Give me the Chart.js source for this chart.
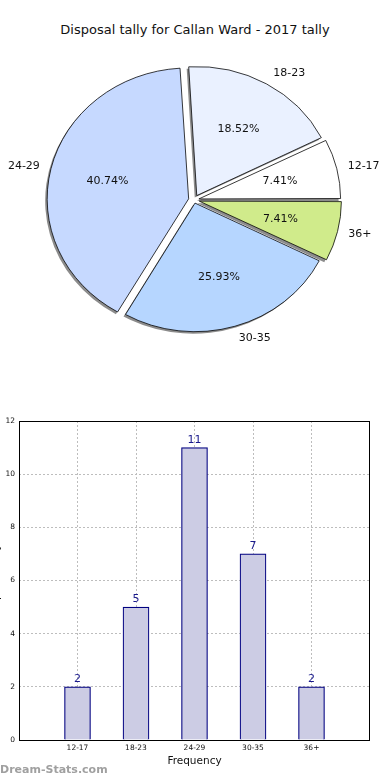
<!DOCTYPE html>
<html>
<head>
<meta charset="utf-8">
<script src="https://cdn.jsdelivr.net/npm/chart.js@4"></script>
<style>
  html, body { margin: 0; padding: 0; background: #fff; overflow: hidden; }
  body { width: 390px; height: 780px; position: relative; font-family: "DejaVu Sans", sans-serif; }
  #title { position: absolute; top: 22px; left: 0; width: 390px; text-align: center; font-size: 13px; color: #111; }
  #pieWrap { position: absolute; left: 0; top: 0; width: 390px; height: 400px; }
  #barWrap { position: absolute; left: -10px; top: 400px; width: 390px; height: 380px; }
  #mark { position: absolute; left: 0; top: 763px; font-size: 11px; font-weight: bold; color: #a0a0a0; }
</style>
</head>
<body>
<div id="title">Disposal tally for Callan Ward - 2017 tally</div>
<div id="pieWrap"><canvas id="pie"></canvas></div>
<div id="barWrap"><canvas id="bar"></canvas></div>
<div id="mark">Dream-Stats.com</div>
<script>
// data
const categories = ["12-17", "18-23", "24-29", "30-35", "36+"];
const tally = [2, 5, 11, 7, 2];
const percentLabels = ["7.41%", "18.52%", "40.74%", "25.93%", "7.41%"];
const sliceColors = ["#ffffff", "#eaf1ff", "#c6d9ff", "#b6d6ff", "#d0eb8b"];
const sliceOffsets = [20, 22, 22, 14, 22];
const yTicks = [0, 2, 4, 6, 8, 10, 12];

// pie is drawn clockwise from east, matplotlib goes counter-clockwise
const pieOrder = [4, 3, 2, 1, 0];
const ky = 0.925; // pie is a bit squashed vertically

const squash = (ctx, cx, cy, dx, dy) => {
  ctx.translate(cx + dx, cy + dy);
  ctx.scale(1, ky);
  ctx.translate(-cx, -cy);
};

const piePlugin = {
  id: "piePlugin",
  beforeDatasetsDraw(chart) {
    const ctx = chart.ctx;
    const arcs = chart.getDatasetMeta(0).data;
    const cx = arcs[0].x, cy = arcs[0].y;
    // shadow
    ctx.save();
    squash(ctx, cx, cy, -2, 2);
    ctx.fillStyle = "rgba(0,0,0,0.45)";
    arcs.forEach(a => {
      const off = (a.options.offset || 0) / 4;
      const mid = (a.startAngle + a.endAngle) / 2;
      const fix = 1 - Math.sin(Math.min(Math.PI, a.circumference || (a.endAngle - a.startAngle)));
      const ox = a.x + Math.cos(mid) * off, oy = a.y + Math.sin(mid) * off;
      ctx.beginPath();
      ctx.moveTo(ox, oy);
      ctx.arc(ox, oy, a.outerRadius + off * fix, a.startAngle, a.endAngle);
      ctx.closePath();
      ctx.fill();
    });
    ctx.restore();
    ctx.save();
    squash(ctx, cx, cy, 0, 0);
  },
  afterDatasetsDraw(chart) {
    const ctx = chart.ctx;
    ctx.restore();
    const arcs = chart.getDatasetMeta(0).data;
    ctx.save();
    ctx.fillStyle = "#111";
    ctx.font = "11px 'DejaVu Sans'";
    ctx.textBaseline = "middle";
    arcs.forEach((a, i) => {
      const k = pieOrder[i];
      const off = (a.options.offset || 0) / 4;
      const mid = (a.startAngle + a.endAngle) / 2;
      const c = Math.cos(mid), s = Math.sin(mid);
      const r = a.outerRadius;
      // percent
      ctx.textAlign = "center";
      ctx.fillText(percentLabels[k], a.x + c * (off + 0.6 * r), a.y + s * (off + 0.6 * r) * ky);
      // category
      ctx.textAlign = c >= 0 ? "left" : "right";
      ctx.fillText(categories[k], a.x + c * (off + 1.1 * r), a.y + s * (off + 1.1 * r) * ky);
    });
    ctx.restore();
  }
};

new Chart(document.getElementById("pie"), {
  type: "pie",
  data: {
    labels: pieOrder.map(i => categories[i]),
    datasets: [{
      data: pieOrder.map(i => tally[i]),
      backgroundColor: pieOrder.map(i => sliceColors[i]),
      offset: pieOrder.map(i => sliceOffsets[i]),
      borderColor: "#000",
      borderWidth: 0.8
    }]
  },
  options: {
    responsive: true,
    maintainAspectRatio: false,
    animation: false,
    rotation: 90,
    radius: 139,
    layout: { padding: { left: 0, right: 2, top: 0, bottom: 0 } },
    plugins: { legend: { display: false }, tooltip: { enabled: false } }
  },
  plugins: [piePlugin]
});

// bar chart
const barLabels = ["", ...categories, ""];
const barData = [null, ...tally, null];

const barPlugin = {
  id: "barPlugin",
  afterDraw(chart) {
    const ctx = chart.ctx;
    const a = chart.chartArea;
    ctx.save();
    ctx.strokeStyle = "#000";
    ctx.lineWidth = 1;
    ctx.strokeRect(a.left + 0.5, a.top + 0.5, a.right - a.left - 1, a.bottom - a.top);
    ctx.fillStyle = "#1a1a8c";
    ctx.font = "11px 'DejaVu Sans'";
    ctx.textAlign = "center";
    ctx.textBaseline = "bottom";
    chart.getDatasetMeta(0).data.forEach((b, i) => {
      if (barData[i] == null) return;
      ctx.fillText(String(barData[i]), b.x, b.y - 2);
    });
    ctx.restore();
  }
};

new Chart(document.getElementById("bar"), {
  type: "bar",
  data: {
    labels: barLabels,
    datasets: [{
      data: barData,
      backgroundColor: "#ccccE4",
      borderColor: "#000080",
      borderWidth: 1.2,
      barThickness: 26
    }]
  },
  options: {
    responsive: true,
    maintainAspectRatio: false,
    animation: false,
    layout: { padding: { top: 21, right: 10, bottom: 0, left: 0 } },
    plugins: { legend: { display: false }, tooltip: { enabled: false } },
    scales: {
      x: {
        offset: false,
        z: 1,
        grid: {
          offset: false,
          color: ctx => (ctx.index === 0 || ctx.index === barLabels.length - 1) ? "rgba(0,0,0,0)" : "#bdbdbd",
          lineWidth: 1,
          drawTicks: false
        },
        border: { display: false, dash: [2, 2] },
        ticks: { color: "#111", font: { family: "DejaVu Sans", size: 7.5 }, padding: 4, maxRotation: 0, autoSkip: false },
        title: { display: true, text: "Frequency", color: "#111", font: { family: "DejaVu Sans", size: 10.5 }, padding: { top: 0, bottom: 12 } },
        afterFit: s => { s.height = 40; }
      },
      y: {
        min: 0,
        max: 12,
        z: 1,
        afterBuildTicks: s => { s.ticks = yTicks.map(v => ({ value: v })); },
        grid: {
          color: ctx => (ctx.tick && (ctx.tick.value === 0 || ctx.tick.value === 12)) ? "rgba(0,0,0,0)" : "#bdbdbd",
          lineWidth: 1,
          drawTicks: false
        },
        border: { display: false, dash: [2, 2] },
        ticks: { color: "#111", font: { family: "DejaVu Sans", size: 7.5 }, padding: 4 },
        title: { display: true, text: "Disposal tally", color: "#111", font: { family: "DejaVu Sans", size: 11 }, padding: { top: 0, bottom: 0 } },
        afterFit: s => { s.width = 29; }
      }
    }
  },
  plugins: [barPlugin]
});
</script>
</body>
</html>
